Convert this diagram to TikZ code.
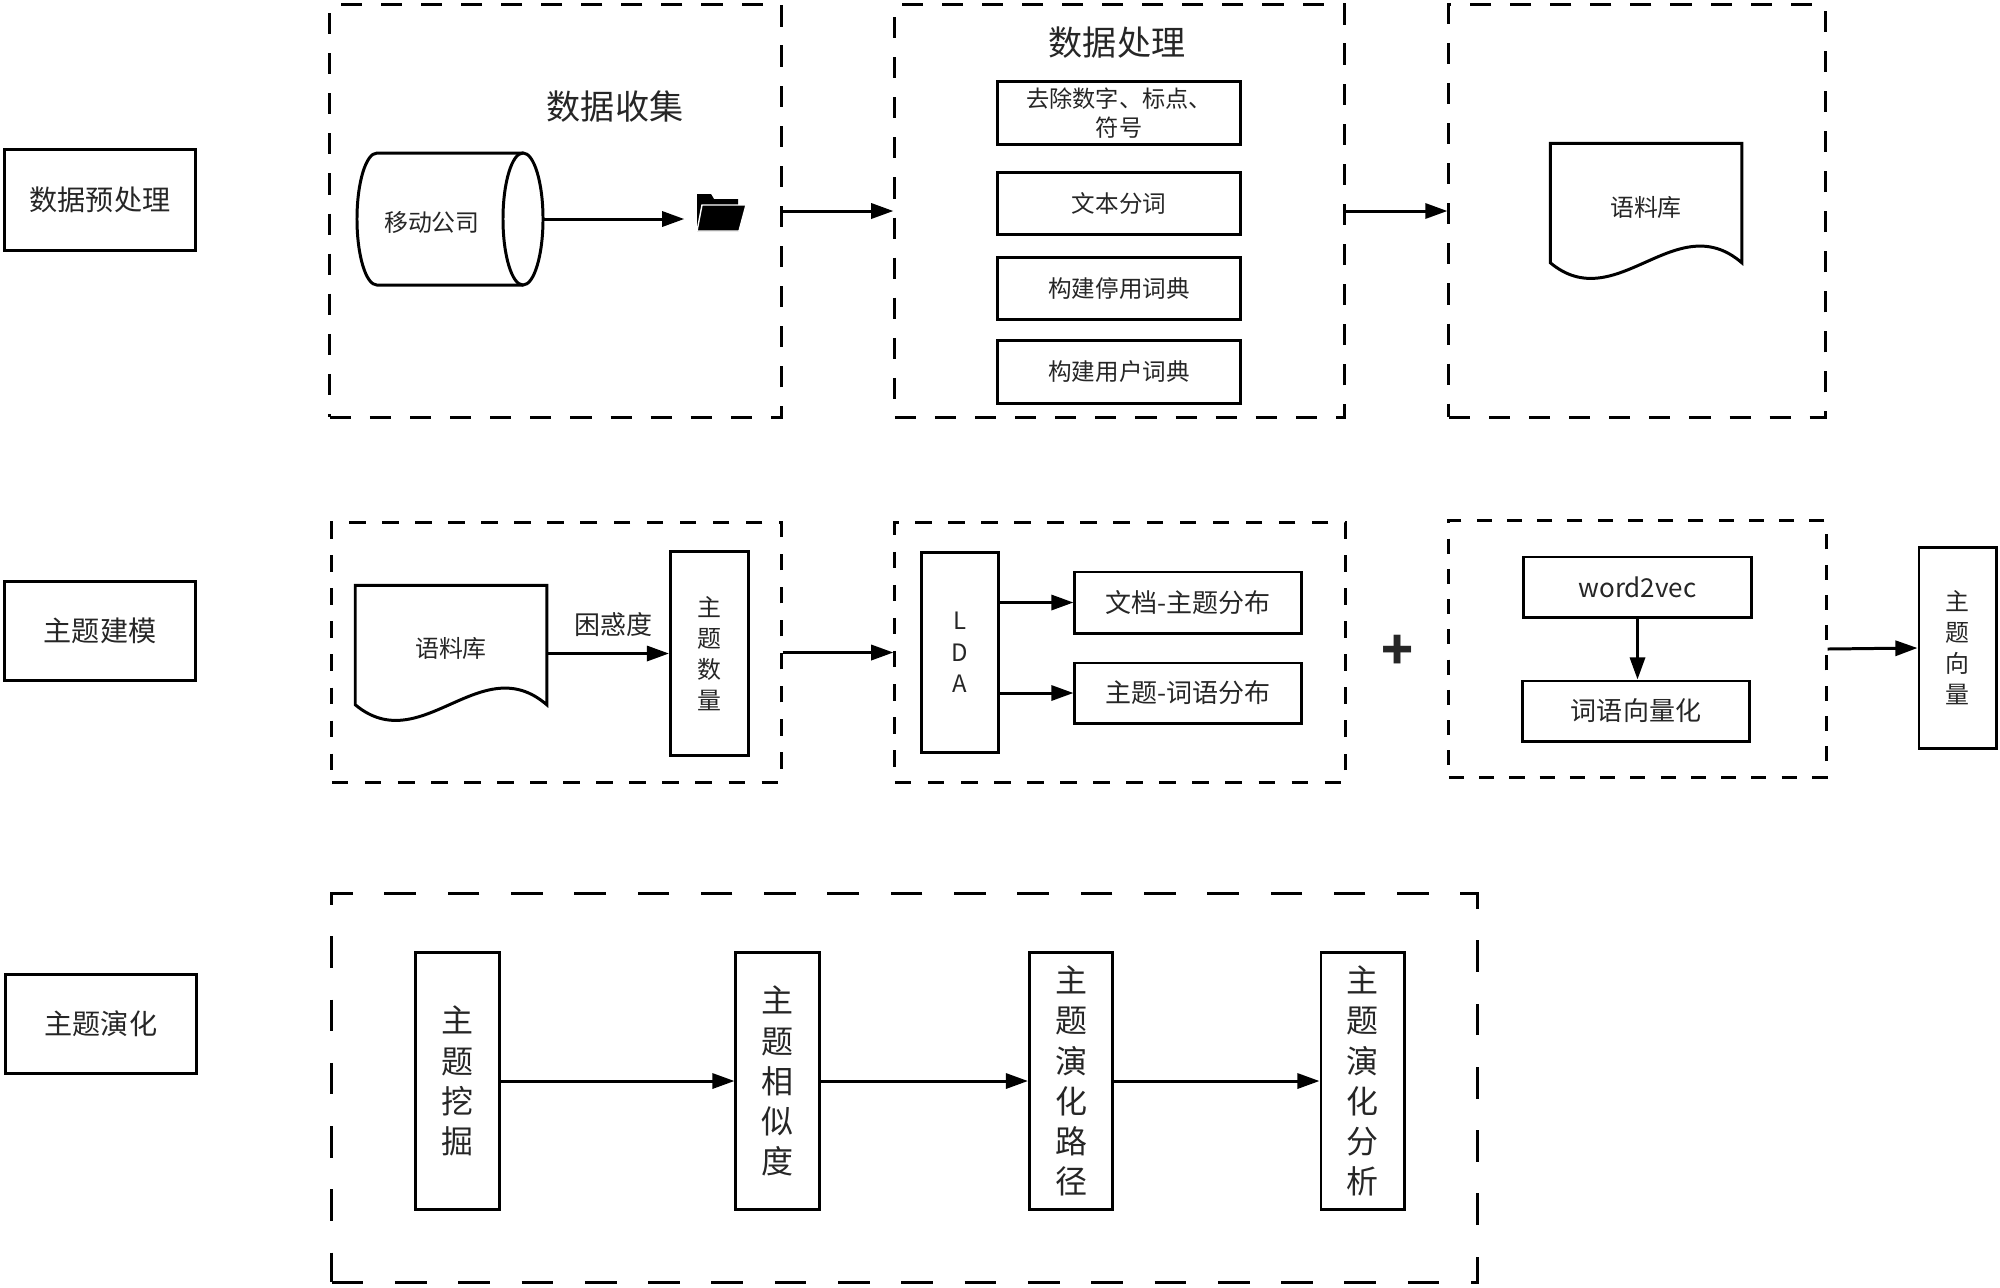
\documentclass[tikz,border=0pt]{standalone}
\usepackage{fontspec}
\setmainfont{Noto Sans CJK SC}
\usetikzlibrary{arrows,arrows.meta}
\newcommand{\fs}[2]{\fontsize{#1}{#2}\selectfont}
\tikzset{
  blk/.style={draw, line width=0.85pt, inner sep=0pt, align=center, text=black!85},
  dashbox/.style={draw, line width=0.85pt, dash pattern=on 5.7pt off 5.7pt, inner sep=0pt},
  link/.style={-{Triangle[length=6.3pt,width=4.3pt]}, line width=0.85pt},
  lbl/.style={inner sep=0pt, align=center, text=black!85},
  evbox/.style={blk, minimum width=0.83cm, minimum height=2.57cm, font=\fs{9.1}{11.4}}
}
\begin{document}
\begin{tikzpicture}[x=0.01cm, y=-0.01cm]
\useasboundingbox (0,0) rectangle (2000,1287);

\node[blk, minimum width=1.9cm, minimum height=1cm] (lab1) at (100,200) {\fs{8}{10}数据预处理};
\node[blk, minimum width=1.9cm, minimum height=0.98cm] (lab2) at (100,631) {\fs{8}{10}主题建模};
\node[blk, minimum width=1.9cm, minimum height=0.98cm] (lab3) at (101,1024) {\fs{8}{10}主题演化};

\node[dashbox, minimum width=4.51cm, minimum height=4.12cm, dash pattern=on 6pt off 5.4pt] (fr1) at (555.5,211) {};
\node[dashbox, minimum width=4.49cm, minimum height=4.12cm, dash pattern=on 6pt off 5.4pt] (fr2) at (1119.5,211) {};
\node[dashbox, minimum width=3.76cm, minimum height=4.12cm, dash pattern=on 6pt off 5.4pt] (fr3) at (1637,211) {};
\node[lbl] (t1) at (615,107) {\fs{9.7}{12}数据收集};
\node[lbl] (t2) at (1117,43) {\fs{9.7}{12}数据处理};

\node[inner sep=0pt, minimum width=1.86cm, minimum height=1.32cm,
  label={[lbl, xshift=-0.18cm, yshift=-0.03cm]center:\fs{6.8}{8}移动公司}] (cyl) at (450,219) {};
\draw[line width=0.85pt] (523,153) -- (377,153) arc[start angle=90, end angle=270, x radius=0.2cm, y radius=0.66cm] -- (523,285);
\draw[line width=0.85pt] (523,219) ellipse[x radius=0.2cm, y radius=0.66cm];
\node[inner sep=0pt, minimum width=0.5cm, minimum height=0.37cm] (fold) at (721,212) {};
\fill (697,194) -- (711,194) -- (714,199) -- (738,199) -- (738,231) -- (697,231) -- cycle;
\filldraw[draw=white, line width=0.4pt] (702,205) -- (746,205) -- (739,231) -- (697,231) -- cycle;
\draw[link, shorten >=0.11cm] (cyl.east) -- (cyl.east -| fold.west);

\node[blk, minimum width=2.43cm, minimum height=0.62cm, font=\fs{6.6}{8.4}] (p1) at (1119,113) {去除数字、标点、\\符号};
\foreach \nm/\py/\txt in {p2/203.5/文本分词, p3/288.5/构建停用词典, p4/372/构建用户词典}
\node[blk, minimum width=2.43cm, minimum height=0.62cm] (\nm) at (1119,\py) {\fs{6.7}{8.5}\txt};

\node[inner sep=0pt, minimum width=1.9cm, minimum height=1.18cm,
  label={[lbl, yshift=-0.04cm]center:\fs{6.8}{8}语料库}] (corp1) at (1646,203) {};
\draw[line width=0.85pt] (corp1.south west) .. controls +(66,55) and +(-66,-57) .. (corp1.south east) -- (corp1.north east) -- (corp1.north west) -- cycle;

\draw[link] (fr1.east) -- (fr2.west);
\draw[link] (fr2.east) -- (fr3.west);

\node[dashbox, minimum width=4.49cm, minimum height=2.59cm, dash pattern=on 4.7pt off 4.7pt] (fr4) at (556.5,652.5) {};
\node[dashbox, minimum width=4.5cm, minimum height=2.6cm, dash pattern=on 4.7pt off 4.7pt] (fr5) at (1120,652.5) {};
\node[dashbox, minimum width=3.77cm, minimum height=2.56cm, dash pattern=on 4.3pt off 4.3pt] (fr6) at (1637.5,649) {};

\node[inner sep=0pt, minimum width=1.9cm, minimum height=1.18cm,
  label={[lbl, yshift=-0.03cm]center:\fs{6.8}{8}语料库}] (corp2) at (451,645) {};
\draw[line width=0.85pt] (corp2.south west) .. controls +(66,55) and +(-66,-57) .. (corp2.south east) -- (corp2.north east) -- (corp2.north west) -- cycle;
\node[blk, minimum width=0.78cm, minimum height=2.03cm, font=\fs{6.8}{8.8}] (num) at (709.5,653.5) {主\\题\\数\\量};
\draw[link] (corp2.east |- num.west) -- node[above=4.5pt, lbl, xshift=0.06cm] {\fs{7.4}{9}困惑度} (num.west);

\node[blk, minimum width=0.76cm, minimum height=2cm, font=\fs{6.8}{8.9}] (lda) at (960,652.5) {L\\D\\A};
\node[blk, minimum width=2.26cm, minimum height=0.61cm] (dt) at (1188,602.5) {\fs{7.4}{9}文档-主题分布};
\node[blk, minimum width=2.26cm, minimum height=0.6cm] (tw) at (1188,693) {\fs{7.4}{9}主题-词语分布};
\draw[link] (lda.east |- dt) -- (dt.west);
\draw[link] (lda.east |- tw) -- (tw.west);
\node[lbl] (plus) at (1398,652) {\fs{15}{15}\bfseries +};

\node[blk, minimum width=2.27cm, minimum height=0.6cm] (w2v) at (1637.5,587) {\fs{7.4}{9}word2vec};
\node[blk, minimum width=2.26cm, minimum height=0.6cm] (wv) at (1636,711) {\fs{7.4}{9}词语向量化};
\draw[link] (w2v) -- (w2v |- wv.north);
\node[blk, minimum width=0.77cm, minimum height=2cm, font=\fs{6.8}{8.8}] (vec) at (1957.5,648) {主\\题\\向\\量};

\draw[link] (fr4.east) -- (fr5.west);
\draw[link] (fr6.east) -- (vec.west);

\node[dashbox, minimum width=11.45cm, minimum height=3.88cm, dash pattern=on 9pt off 9pt] (fr7) at (904.5,1088) {};
\node[evbox] (e1) at (457.5,1081) {主\\题\\挖\\掘};
\node[evbox] (e2) at (777.5,1081) {主\\题\\相\\似\\度};
\node[evbox] (e3) at (1071,1081) {主\\题\\演\\化\\路\\径};
\node[evbox] (e4) at (1362.5,1081) {主\\题\\演\\化\\分\\析};
\foreach \p/\q in {e1/e2, e2/e3, e3/e4}
\draw[link] (\p) -- (\q);

\end{tikzpicture}
\end{document}
